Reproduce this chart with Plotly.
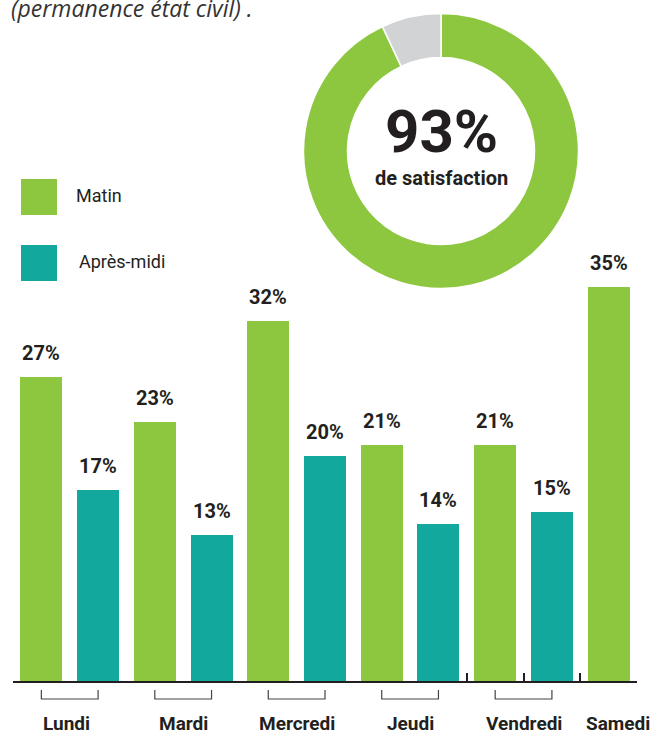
import plotly.graph_objects as go

# ---- data ----
days = ["Lundi", "Mardi", "Mercredi", "Jeudi", "Vendredi", "Samedi"]
matin = [27, 23, 32, 21, 21, 35]
apres_midi = [17, 13, 20, 14, 15, None]
series_names = ["Matin", "Après-midi"]
satisfaction = [93, 7]
satisfaction_labels = ["Satisfaits", "Autres"]
title_text = "(permanence état civil) ."
center_big = "93%"
center_small = "de satisfaction"

GREEN = "#8dc63f"
TEAL = "#12a89d"
GREY = "#d1d3d4"
DARK = "#231f20"
FONT = "Roboto, Liberation Sans, sans-serif"

OFF = 0                 # body margin removed via post_script
W, HT = 651, 734
L, R, B = 13, 14, 53
PW = W - L - R          # plot width (624)
H = HT - B              # plot height (681)

def px(xp):   # page x -> paper fraction
    return (xp - OFF - L) / PW

def py(yp):   # page y -> paper fraction
    return (H - (yp - OFF)) / H

# build sequential bar positions (Matin, Après-midi per day)
xs, ys, cols = [], [], []
i = 0
group_pos = []
for d, m, a in zip(days, matin, apres_midi):
    start = i
    xs.append(i); ys.append(m); cols.append(GREEN); i += 1
    if a is not None:
        xs.append(i); ys.append(a); cols.append(TEAL); i += 1
    group_pos.append((start, i - 1))

fig = go.Figure()
fig.add_trace(go.Bar(x=xs, y=ys, marker=dict(color=cols, line=dict(width=0)),
                     width=0.74, showlegend=False, hoverinfo="skip"))

cxp, cyp, rp = 441, 151, 137.5
fig.add_trace(go.Pie(values=satisfaction, labels=satisfaction_labels, hole=0.68,
                     direction="clockwise", sort=False, rotation=0,
                     marker=dict(colors=[GREEN, GREY], line=dict(color="white", width=1.5)),
                     textinfo="none", showlegend=False, hoverinfo="skip",
                     domain=dict(x=[px(cxp - rp), px(cxp + rp)], y=[py(cyp + rp), py(cyp - rp)])))

ann = []
for x, y in zip(xs, ys):
    ann.append(dict(x=x, y=y, xref="x", yref="y", text=f"<b>{y}%</b>", showarrow=False,
                    xanchor="center", yanchor="bottom", yshift=10,
                    font=dict(family=FONT, size=20, color=DARK)))

shapes = []
by0, by1 = py(690), py(699)
label_y = py(723)
for d, (s, e) in zip(days, group_pos):
    cx = (s + e) / 2
    if e > s:
        shapes.append(dict(type="path", xref="x", yref="paper",
                           path=f"M {s},{by0} L {s},{by1} L {e},{by1} L {e},{by0}",
                           line=dict(color="#444444", width=1.2)))
        lx = cx - 0.06 if s == 0 else cx
    else:
        lx = cx + 0.16
    ann.append(dict(x=lx, y=label_y, xref="x", yref="paper", text=f"<b>{d}</b>",
                    showarrow=False, xanchor="center", yanchor="middle",
                    font=dict(family=FONT, size=19, color=DARK)))

# legend (drawn manually)
legend_items = [(series_names[0], GREEN, 197, 74), (series_names[1], TEAL, 263, 77)]
for name, col, yc, lxp in legend_items:
    shapes.append(dict(type="rect", xref="paper", yref="paper",
                       x0=px(21), x1=px(57), y0=py(yc + 18), y1=py(yc - 18),
                       fillcolor=col, line=dict(width=0)))
    ann.append(dict(x=px(lxp), y=py(yc - 2), xref="paper", yref="paper", text=name,
                    showarrow=False, xanchor="left", yanchor="middle",
                    font=dict(family=FONT, size=18, color=DARK)))

# donut centre text
ann.append(dict(x=px(cxp), y=py(132), xref="paper", yref="paper", text=f"<b>{center_big}</b>",
                showarrow=False, xanchor="center", yanchor="middle",
                font=dict(family=FONT, size=60, color=DARK)))
ann.append(dict(x=px(cxp), y=py(178), xref="paper", yref="paper", text=f"<b>{center_small}</b>",
                showarrow=False, xanchor="center", yanchor="middle",
                font=dict(family=FONT, size=20, color=DARK)))

# top cropped text
ann.append(dict(x=px(9), y=py(8), xref="paper", yref="paper", text=f"<i>{title_text}</i>",
                showarrow=False, xanchor="left", yanchor="middle",
                font=dict(family="Open Sans, sans-serif", size=23, color="#333333")))

fig.update_layout(
    width=W, height=HT,
    margin=dict(l=L, r=R, t=0, b=B, pad=0),
    paper_bgcolor="white", plot_bgcolor="white",
    bargap=0,
    xaxis=dict(range=[-0.5, 10.5], showgrid=False, zeroline=False, showline=True,
               linecolor=DARK, linewidth=2, tickmode="array",
               tickvals=[-0.5, 7.5, 8.5, 9.5, 10.5], ticks="inside", ticklen=8,
               tickwidth=2, tickcolor=DARK, showticklabels=False, fixedrange=True),
    yaxis=dict(range=[0, H / 11.25], visible=False, fixedrange=True),
    annotations=ann, shapes=shapes,
)

fig.write_html("out.html", config={"displayModeBar": False},
               post_script="document.body.style.margin='0';document.body.style.overflow='hidden';")
